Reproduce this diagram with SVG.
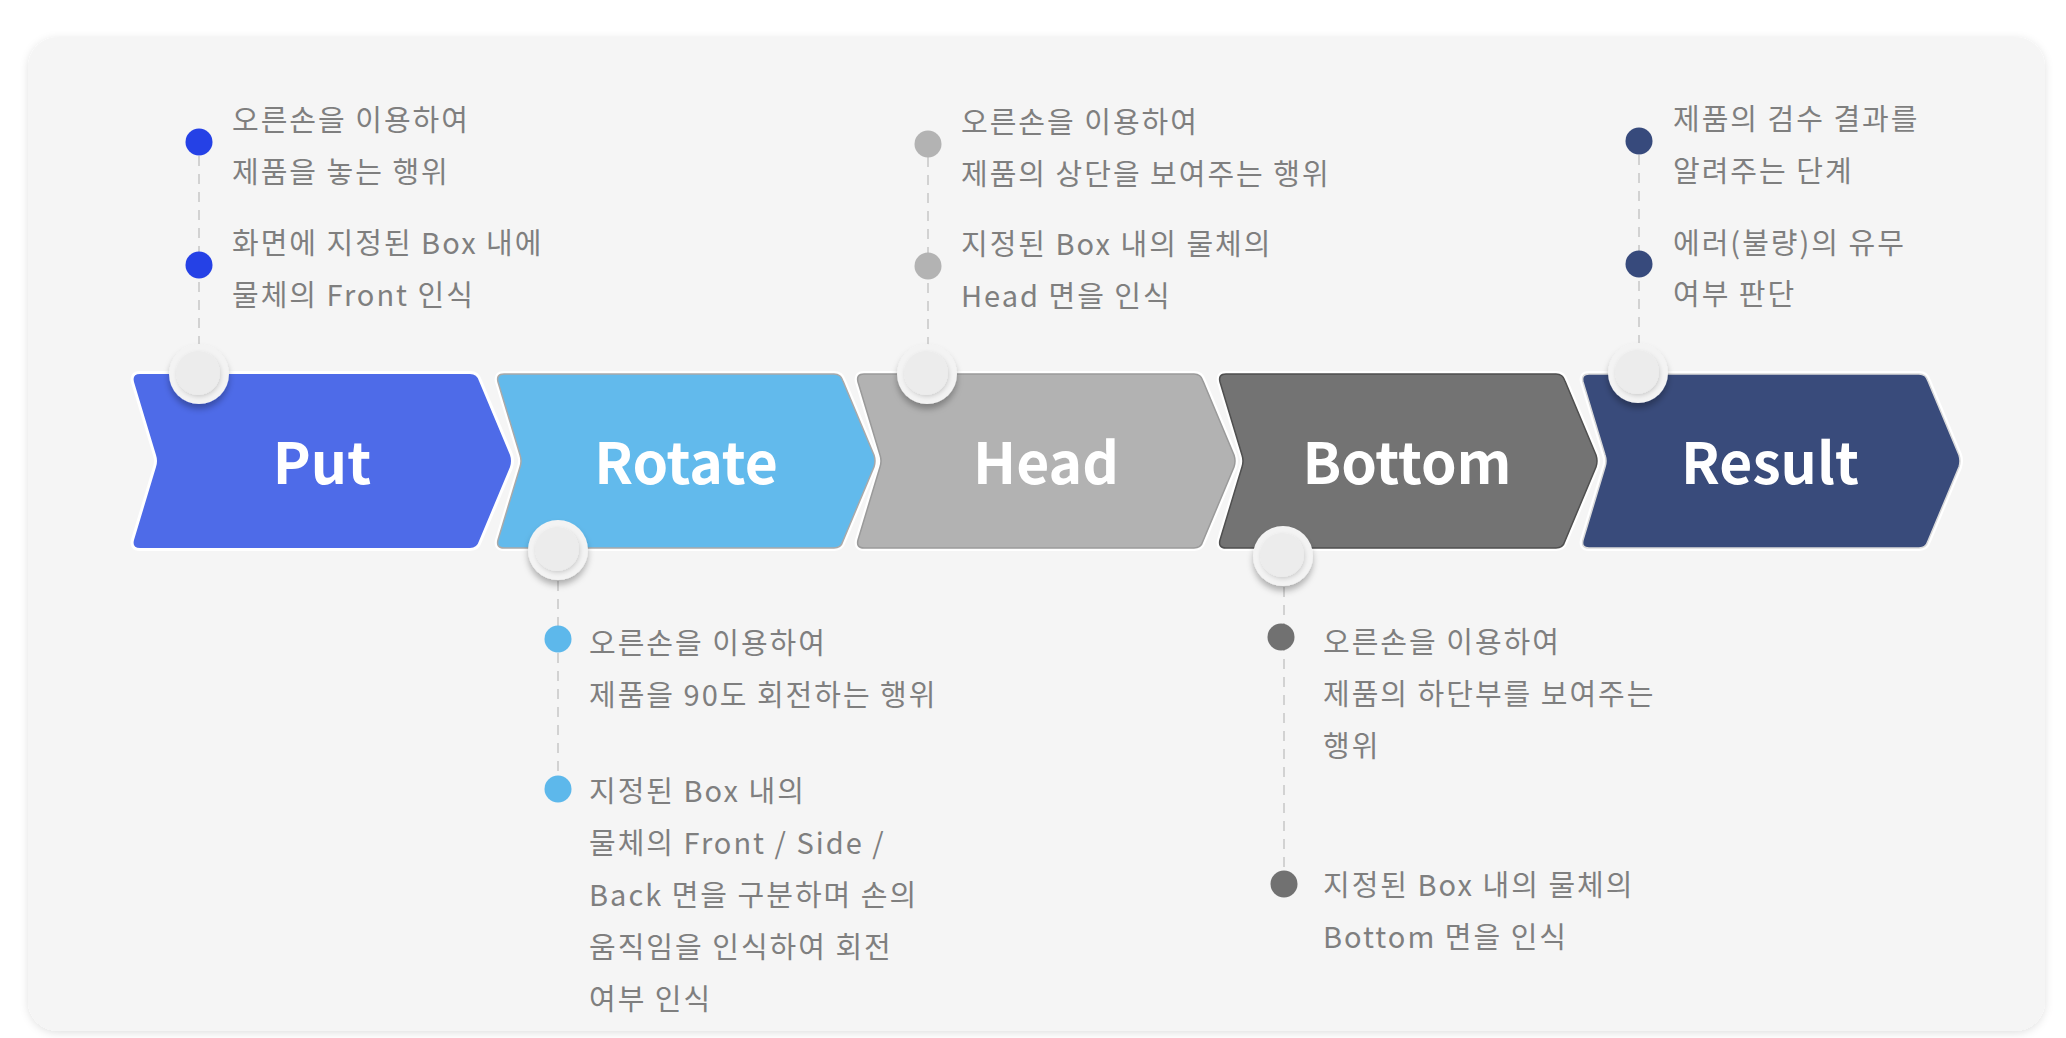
<svg xmlns="http://www.w3.org/2000/svg" xmlns:xlink="http://www.w3.org/1999/xlink" width="2066" height="1038" viewBox="0 0 2066 1038">
<style>
.t{font-family:"Noto Sans CJK KR","Noto Sans",sans-serif;font-size:29px;fill:#7f7f7f;letter-spacing:2px}
.h{font-family:"Noto Sans CJK KR","Noto Sans",sans-serif;font-size:57px;font-weight:700;fill:#ffffff;text-anchor:middle}
.dash{stroke:#d2d2d2;stroke-width:2;stroke-dasharray:10 8;fill:none}
.gap{fill:none;stroke:#ffffff;stroke-width:6;stroke-linejoin:round}
.ko{fill:#f3f3f3;filter:url(#ks)}
.ki{fill:#ececec;filter:url(#ks2)}
</style>
<defs>
<filter id="cs" x="-5%" y="-5%" width="110%" height="110%"><feDropShadow dx="0" dy="2" stdDeviation="4" flood-color="#000" flood-opacity="0.12"/></filter>
<filter id="ks" x="-50%" y="-50%" width="200%" height="200%"><feDropShadow dx="0" dy="5" stdDeviation="3" flood-color="#000" flood-opacity="0.28"/></filter>
<filter id="ks2" x="-50%" y="-50%" width="200%" height="200%"><feDropShadow dx="1" dy="2" stdDeviation="2" flood-color="#000" flood-opacity="0.15"/></filter>
<path id="chev" d="M 8,374 L 338,374 Q 345,374 347,381 L 378,455 Q 380,461 378,467 L 347,541 Q 345,548 338,548 L 8,548 Q 0,548 2,540 L 24,467 Q 26,461 24,455 L 2,382 Q 0,374 8,374 Z"/>
</defs>
<rect x="0" y="0" width="2066" height="1038" fill="#ffffff"/>
<rect x="28" y="37" width="2017" height="994" rx="30" fill="#f5f5f5" filter="url(#cs)"/>

<g id="connectors">
<line class="dash" x1="199" y1="156" x2="199" y2="344"/>
<line class="dash" x1="928" y1="157" x2="928" y2="345"/>
<line class="dash" x1="1639" y1="155" x2="1639" y2="343"/>
<line class="dash" x1="558" y1="581" x2="558" y2="775"/>
<line class="dash" x1="1284" y1="587" x2="1284" y2="870"/>
</g>

<g id="put">
<use xlink:href="#chev" x="132" class="gap"/>
<use xlink:href="#chev" x="132" fill="#4e6be8"/>
<text class="h" x="322" y="484">Put</text>
<circle class="ko" cx="199" cy="374" r="30"/>
<circle class="ki" cx="198" cy="373" r="22"/>
<circle cx="199" cy="142" r="13.5" fill="#2541e6"/>
<circle cx="199" cy="265" r="13.5" fill="#2541e6"/>
<text class="t" x="232" y="131">오른손을 이용하여</text>
<text class="t" x="232" y="183">제품을 놓는 행위</text>
<text class="t" x="232" y="254">화면에 지정된 Box 내에</text>
<text class="t" x="232" y="306">물체의 Front 인식</text>
</g>

<g id="rotate">
<use xlink:href="#chev" x="496" class="gap"/>
<use xlink:href="#chev" x="496" fill="#62baec" stroke="#a9a9a9" stroke-width="1.5"/>
<text class="h" x="686" y="484">Rotate</text>
<circle class="ko" cx="558" cy="550" r="30"/>
<circle class="ki" cx="557" cy="549" r="22"/>
<circle cx="558" cy="639" r="13.5" fill="#5db8eb"/>
<circle cx="558" cy="789" r="13.5" fill="#5db8eb"/>
<text class="t" x="589" y="654">오른손을 이용하여</text>
<text class="t" x="589" y="706">제품을 90도 회전하는 행위</text>
<text class="t" x="589" y="802">지정된 Box 내의</text>
<text class="t" x="589" y="854">물체의 Front / Side /</text>
<text class="t" x="589" y="906">Back 면을 구분하며 손의</text>
<text class="t" x="589" y="958">움직임을 인식하여 회전</text>
<text class="t" x="589" y="1010">여부 인식</text>
</g>

<g id="head">
<use xlink:href="#chev" x="856" class="gap"/>
<use xlink:href="#chev" x="856" fill="#b2b2b2" stroke="#9a9a9a" stroke-width="1.5"/>
<text class="h" x="1046" y="484">Head</text>
<circle class="ko" cx="927" cy="374" r="30"/>
<circle class="ki" cx="926" cy="373" r="22"/>
<circle cx="928" cy="144" r="13.5" fill="#b3b3b3"/>
<circle cx="928" cy="266" r="13.5" fill="#b3b3b3"/>
<text class="t" x="961" y="133">오른손을 이용하여</text>
<text class="t" x="961" y="185">제품의 상단을 보여주는 행위</text>
<text class="t" x="961" y="255">지정된 Box 내의 물체의</text>
<text class="t" x="961" y="307">Head 면을 인식</text>
</g>

<g id="bottom">
<use xlink:href="#chev" x="1218" class="gap"/>
<use xlink:href="#chev" x="1218" fill="#737373" stroke="#4f4f4f" stroke-width="1.5"/>
<text class="h" x="1407" y="484">Bottom</text>
<circle class="ko" cx="1283" cy="556" r="30"/>
<circle class="ki" cx="1282" cy="555" r="22"/>
<circle cx="1281" cy="637" r="13.5" fill="#717171"/>
<circle cx="1284" cy="884" r="13.5" fill="#717171"/>
<text class="t" x="1323" y="653">오른손을 이용하여</text>
<text class="t" x="1323" y="705">제품의 하단부를 보여주는</text>
<text class="t" x="1323" y="757">행위</text>
<text class="t" x="1323" y="896">지정된 Box 내의 물체의</text>
<text class="t" x="1323" y="948">Bottom 면을 인식</text>
</g>

<g id="result">
<use xlink:href="#chev" x="1581" class="gap"/>
<use xlink:href="#chev" x="1581" fill="#394b7b" stroke="#dadada" stroke-width="1.5"/>
<text class="h" x="1770" y="484">Result</text>
<circle class="ko" cx="1638" cy="373" r="30"/>
<circle class="ki" cx="1637" cy="372" r="22"/>
<circle cx="1639" cy="141" r="13.5" fill="#374a7c"/>
<circle cx="1639" cy="264" r="13.5" fill="#374a7c"/>
<text class="t" x="1673" y="130">제품의 검수 결과를</text>
<text class="t" x="1673" y="182">알려주는 단계</text>
<text class="t" x="1673" y="254">에러(불량)의 유무</text>
<text class="t" x="1673" y="305">여부 판단</text>
</g>
</svg>
